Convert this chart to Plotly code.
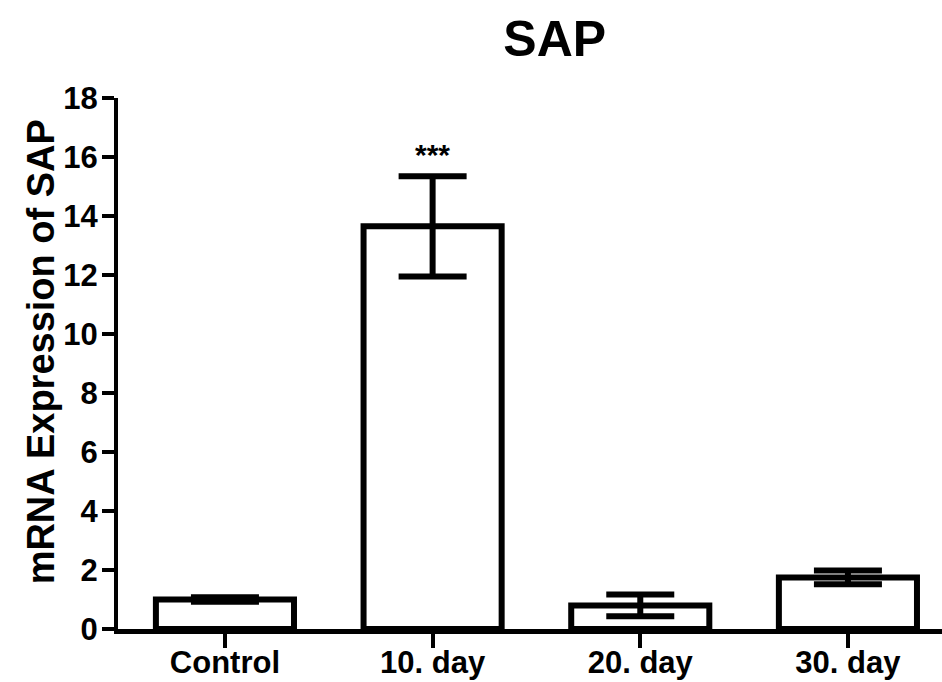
import plotly.graph_objects as go

categories = ["Control", "10. day", "20. day", "30. day"]
means = [1.0, 13.65, 0.80, 1.75]
errors = [0.08, 1.70, 0.37, 0.23]
y_ticks = [0, 2, 4, 6, 8, 10, 12, 14, 16, 18]
title_text = "SAP"
y_title = "mRNA Expression of SAP"
sig_label = "***"
sig_index = 1

FONT = "Liberation Sans, Arial, sans-serif"

fig = go.Figure()
fig.add_trace(go.Bar(
    x=list(range(len(categories))),
    y=means,
    width=0.665,
    marker=dict(color="white", line=dict(color="black", width=6)),
    error_y=dict(type="data", array=errors, visible=True,
                 color="black", thickness=6, width=34),
    showlegend=False,
))

fig.add_annotation(
    x=sig_index, y=means[sig_index] + errors[sig_index] + 0.75,
    xref="x", yref="y", text=sig_label, showarrow=False,
    yanchor="middle",
    font=dict(family=FONT, size=30, color="black", weight="bold"),
)

fig.add_annotation(
    x=-0.094, y=0.522, xref="paper", yref="paper",
    text=y_title, textangle=-90, showarrow=False,
    xanchor="center", yanchor="middle",
    font=dict(family=FONT, size=38, color="black", weight="bold"),
)

fig.update_layout(
    width=942, height=682,
    margin=dict(l=118, r=0, t=98, b=53),
    plot_bgcolor="white", paper_bgcolor="white",
    title=dict(text=title_text, x=0.53, xref="paper", xanchor="center",
               y=1 - 38 / 682, yref="container", yanchor="middle",
               font=dict(family=FONT, size=50, color="black", weight="bold")),
    xaxis=dict(
        range=[-0.515, 3.453],
        automargin=False,
        tickmode="array",
        tickvals=list(range(len(categories))),
        ticktext=categories,
        showline=True, linecolor="black", linewidth=5,
        ticks="outside", ticklen=14, tickwidth=4, tickcolor="black",
        ticklabelstandoff=-12,
        showgrid=False, zeroline=False,
        tickfont=dict(family=FONT, size=31, color="black", weight="bold"),
    ),
    yaxis=dict(
        range=[0, 18],
        automargin=False,
        tickmode="array",
        tickvals=y_ticks,
        showline=True, linecolor="black", linewidth=4,
        ticks="outside", ticklen=12, tickwidth=4, tickcolor="black",
        ticklabelstandoff=-2,
        showgrid=False, zeroline=False,
        tickfont=dict(family=FONT, size=31, color="black", weight="bold"),
    ),
)

fig.write_html("out.html")
